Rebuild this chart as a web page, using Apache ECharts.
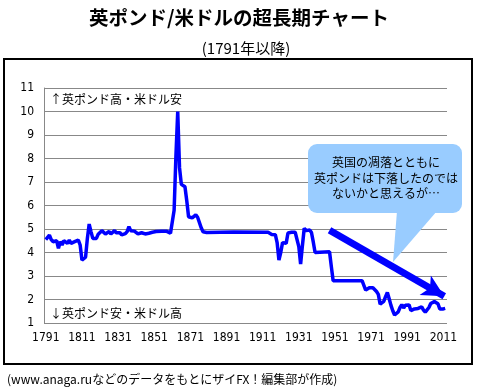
<!DOCTYPE html>
<html><head><meta charset="utf-8">
<script src="https://cdn.jsdelivr.net/npm/echarts@6/dist/echarts.min.js"></script>
<style>html,body{margin:0;padding:0;background:#fff}#c{width:478px;height:388px}</style>
</head><body><div id="c"></div>
<script>
const years = [1791,1792,1793,1794,1795,1796,1797,1798,1799,1800,1801,1802,1803,1804,1805,1806,1807,1808,1809,1810,
1811,1812,1813,1814,1815,1816,1817,1818,1819,1820,1821,1822,1823,1824,1825,1826,1827,1828,1829,1830,
1831,1832,1833,1834,1835,1836,1837,1838,1839,1840,1841,1842,1843,1844,1845,1846,1847,1848,1849,1850,
1851,1852,1853,1855,1858,1860,1861,1862,1863,1864,1865,1866,1867,1868,1869,1870,1871,1872,1873,1874,
1875,1876,1877,1878,1879,1880,1895,1914,1915,1916,1917,1918,1919,1920,1921,1922,1923,1924,1925,1926,
1927,1928,1929,1930,1931,1932,1933,1934,1935,1936,1937,1938,1939,1940,1941,1948,1949,1950,1966,1967,
1968,1969,1970,1971,1972,1973,1974,1975,1976,1977,1978,1979,1980,1981,1982,1983,1984,1985,1986,1987,
1988,1989,1990,1991,1992,1993,1994,1995,1996,1997,1998,1999,2000,2001,2002,2003,2004,2005,2006,2007,
2008,2009,2010,2011,2012];
const rates = [4.55,4.5,4.74,4.55,4.46,4.4,4.5,4.18,4.46,4.32,4.5,4.45,4.39,4.53,4.39,4.44,4.46,4.5,4.53,4.32,
3.68,3.62,3.8,4.6,5.21,4.89,4.6,4.56,4.6,4.78,4.86,4.93,4.85,4.79,4.86,4.89,4.79,4.85,4.93,4.84,
4.82,4.84,4.75,4.67,4.8,4.89,5.1,4.93,4.89,4.91,4.87,4.79,4.82,4.84,4.82,4.79,4.81,4.82,4.84,4.86,
4.89,4.89,4.9,4.9,4.9,4.82,4.74,5.8,8.1,10.0,7.6,6.9,6.85,6.8,6.2,5.52,5.45,5.47,5.5,5.6,
5.5,5.45,5.05,4.88,4.84,4.85,4.87,4.86,4.93,4.77,4.76,4.76,4.42,3.68,4.0,4.42,4.47,4.39,4.83,4.86,
4.86,4.89,4.86,4.82,4.25,3.51,4.3,5.03,4.93,4.97,4.96,4.85,4.45,4.0,4.03,4.03,3.4,2.8,2.8,2.72,
2.4,2.4,2.5,2.44,2.5,2.45,2.34,2.22,1.8,1.75,1.92,2.12,2.3,2.03,1.75,1.52,1.34,1.27,1.47,1.66,
1.78,1.64,1.76,1.77,1.77,1.53,1.55,1.6,1.58,1.62,1.66,1.69,1.55,1.46,1.5,1.66,1.83,1.84,1.91,1.99,
1.82,1.6,1.55,1.6,1.62];
const xTicks = [1791,1811,1831,1851,1871,1891,1911,1931,1951,1971,1991,2011];
const titleText = '英ポンド/米ドルの超長期チャート';
const subtitleText = '(1791年以降)';
const footerText = '(www.anaga.ruなどのデータをもとにザイFX！編集部が作成)';
const upNote = '↑英ポンド高・米ドル安';
const downNote = '↓英ポンド安・米ドル高';
const bubbleText = '英国の凋落とともに\n英ポンドは下落したのでは\nないかと思えるが…';
const arrowFrom = [1948, 4.95];
const arrowTo = [2011.5, 2.14];

const JP = "'Noto Sans CJK JP', sans-serif";
const NUM = "'Liberation Sans Narrow','DejaVu Sans Condensed', sans-serif";
const chart = echarts.init(document.getElementById('c'));
chart.setOption({
  animation: false,
  grid: {left: 44, right: 31, top: 88, bottom: 65},
  xAxis: {
    type: 'value', min: 1790, max: 2013,
    axisLine: {show: false}, axisTick: {show: false}, splitLine: {show: false},
    axisLabel: {customValues: xTicks, color: '#000', fontSize: 12, fontFamily: NUM, margin: 9,
      formatter: v => String(v)}
  },
  yAxis: {
    type: 'value', min: 1, max: 11, interval: 1,
    axisLine: {show: true, lineStyle: {color: '#888', width: 1}},
    axisTick: {show: false},
    splitLine: {lineStyle: {color: '#888', width: 1}},
    axisLabel: {color: '#000', fontSize: 12, fontFamily: NUM, margin: 10}
  },
  series: [{
    type: 'line', data: years.map((y, i) => [y, rates[i]]),
    showSymbol: false, symbol: 'none',
    lineStyle: {color: '#0000ff', width: 3.5}, z: 3,
    markLine: {
      silent: true, symbol: ['none', 'arrow'], symbolSize: [17, 22],
      label: {show: false},
      itemStyle: {color: '#0000ff'},
      lineStyle: {color: '#0000ff', width: 7, type: 'solid', opacity: 1},
      data: [[{coord: arrowFrom}, {coord: arrowTo}]]
    }
  }],
  graphic: [
    {type: 'text', left: 'center', top: 8, style: {text: titleText, font: "bold 19.5px " + JP, fill: '#000'}},
    {type: 'text', x: 246, y: 48, style: {text: subtitleText, font: "15px " + JP, fill: '#000', textAlign: 'center', textVerticalAlign: 'middle'}},
    {type: 'rect', shape: {x: 4, y: 59, width: 468, height: 305}, style: {fill: 'none', stroke: '#000', lineWidth: 2}},
    {type: 'text', x: 7, y: 379, style: {text: footerText, font: "12px " + JP, fill: '#000', textAlign: 'left', textVerticalAlign: 'middle'}},
    {type: 'text', x: 50, y: 99, z: 10, style: {text: upNote, font: "12px " + JP, fill: '#000', textAlign: 'left', textVerticalAlign: 'middle'}},
    {type: 'text', x: 50, y: 313, z: 10, style: {text: downNote, font: "12px " + JP, fill: '#000', textAlign: 'left', textVerticalAlign: 'middle'}},
    {type: 'polygon', z: 9, shape: {points: [[397, 211], [437, 211], [393, 262]]}, style: {fill: '#99ccff'}},
    {type: 'rect', z: 9, shape: {x: 308, y: 144, width: 154, height: 69, r: 9}, style: {fill: '#99ccff'}},
    {type: 'text', z: 10, x: 386, y: 178, style: {text: bubbleText, font: "12px " + JP, lineHeight: 15.5, fill: '#000', textAlign: 'center', textVerticalAlign: 'middle'}}
  ]
});
</script></body></html>
